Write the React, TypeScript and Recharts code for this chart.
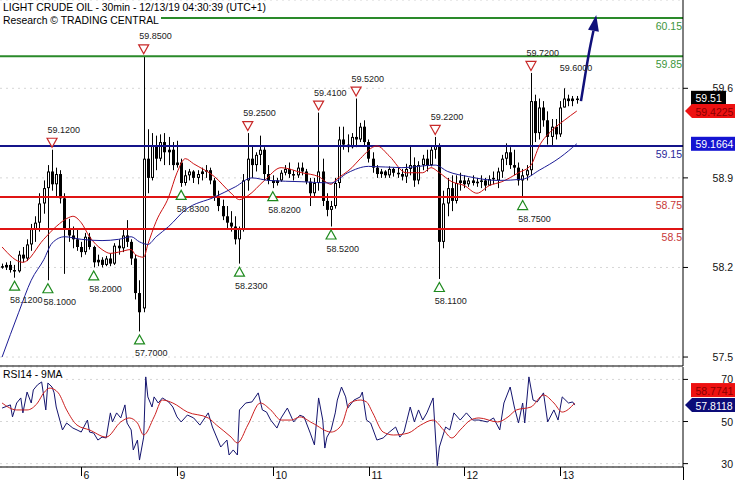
import React from 'react';
import {
  ComposedChart,
  LineChart,
  Line,
  Bar,
  XAxis,
  YAxis,
  CartesianGrid,
  ReferenceLine,
  ReferenceDot,
} from 'recharts';

type OHLC = [number, number, number, number];

// hourly bars [open, high, low, close]
const day5Bars: OHLC[] = [
  [58.21, 58.23, 58.19, 58.2], [58.2, 58.24, 58.18, 58.22], [58.22, 58.25, 58.16, 58.18],
  [58.18, 58.22, 58.12, 58.17], [58.17, 58.33, 58.16, 58.3], [58.3, 58.36, 58.24, 58.27],
  [58.27, 58.42, 58.25, 58.38], [58.38, 58.54, 58.33, 58.5], [58.5, 58.6, 58.4, 58.55],
  [58.55, 58.78, 58.48, 58.7], [58.7, 58.88, 58.62, 58.82], [58.82, 59.0, 58.1, 58.95],
  [58.95, 59.12, 58.8, 58.85], [58.85, 58.98, 58.75, 58.93], [58.93, 58.96, 58.7, 58.74],
  [58.74, 58.78, 58.15, 58.5], [58.5, 58.58, 58.4, 58.45], [58.45, 58.52, 58.35, 58.42],
  [58.42, 58.5, 58.33, 58.36],
];
const day6Bars: OHLC[] = [
  [58.36, 58.4, 58.28, 58.32], [58.32, 58.47, 58.3, 58.44], [58.44, 58.47, 58.34, 58.36],
  [58.36, 58.37, 58.2, 58.24], [58.24, 58.3, 58.21, 58.26], [58.26, 58.28, 58.2, 58.22],
  [58.22, 58.29, 58.21, 58.27], [58.27, 58.31, 58.21, 58.23], [58.23, 58.39, 58.22, 58.37],
  [58.37, 58.42, 58.3, 58.35], [58.35, 58.5, 58.32, 58.45], [58.45, 58.57, 58.36, 58.4],
  [58.4, 58.42, 58.22, 58.27], [58.27, 58.3, 57.95, 58.0], [58.0, 58.1, 57.7, 57.85],
  [57.88, 59.85, 57.85, 59.05], [59.05, 59.28, 58.78, 58.9], [58.9, 59.25, 58.88, 59.15],
  [59.15, 59.23, 58.96, 59.05], [59.05, 59.24, 59.03, 59.18], [59.18, 59.25, 59.0, 59.1],
  [59.1, 59.22, 59.0, 59.12], [59.12, 59.18, 58.96, 59.0],
];
const day9Bars: OHLC[] = [
  [59.0, 59.19, 58.98, 59.02], [59.02, 59.05, 58.83, 58.86], [58.86, 58.96, 58.84, 58.92],
  [58.92, 58.97, 58.88, 58.95], [58.95, 58.96, 58.86, 58.9], [58.9, 58.96, 58.85, 58.93],
  [58.93, 58.98, 58.88, 58.95], [58.95, 59.0, 58.9, 58.96], [58.96, 58.98, 58.85, 58.88],
  [58.88, 58.9, 58.72, 58.76], [58.76, 58.8, 58.64, 58.68], [58.68, 58.73, 58.57, 58.6],
  [58.6, 58.68, 58.5, 58.55], [58.55, 58.64, 58.48, 58.52], [58.52, 58.6, 58.38, 58.42],
  [58.42, 58.52, 58.23, 58.5], [58.5, 58.93, 58.48, 58.88], [58.88, 59.25, 58.8, 59.05],
  [59.05, 59.15, 58.9, 59.0], [59.0, 59.1, 58.95, 59.08], [59.08, 59.23, 59.0, 59.12],
  [59.12, 59.14, 58.88, 58.93], [58.93, 59.0, 58.85, 58.88],
];
const day10Bars: OHLC[] = [
  [58.88, 58.92, 58.82, 58.86], [58.86, 58.9, 58.84, 58.88], [58.88, 58.96, 58.87, 58.94],
  [58.94, 59.0, 58.92, 58.97], [58.97, 59.02, 58.9, 58.93], [58.93, 58.96, 58.88, 58.92],
  [58.92, 59.02, 58.9, 58.98], [58.98, 59.02, 58.92, 58.95], [58.95, 58.97, 58.85, 58.87],
  [58.87, 58.9, 58.68, 58.78], [58.78, 58.9, 58.75, 58.86], [58.86, 59.41, 58.8, 58.95],
  [58.95, 59.05, 58.68, 58.72], [58.72, 58.78, 58.6, 58.65], [58.65, 58.72, 58.52, 58.68],
  [58.68, 58.9, 58.66, 58.86], [58.86, 59.3, 58.82, 59.2], [59.2, 59.3, 59.12, 59.16],
  [59.16, 59.24, 59.1, 59.14], [59.14, 59.25, 59.13, 59.22], [59.22, 59.52, 59.14, 59.2],
  [59.2, 59.33, 59.18, 59.3], [59.3, 59.35, 59.15, 59.18],
];
const day11Bars: OHLC[] = [
  [59.18, 59.2, 59.02, 59.05], [59.05, 59.1, 58.94, 58.98], [58.98, 59.0, 58.9, 58.93],
  [58.93, 58.97, 58.9, 58.95], [58.95, 58.96, 58.9, 58.92], [58.92, 58.99, 58.9, 58.97],
  [58.97, 58.98, 58.91, 58.94], [58.94, 58.98, 58.9, 58.93], [58.93, 58.97, 58.88, 58.91],
  [58.91, 59.01, 58.86, 58.97], [58.97, 59.15, 58.92, 59.0], [59.0, 59.06, 58.83, 58.88],
  [58.88, 59.03, 58.85, 59.0], [59.0, 59.08, 58.96, 59.05], [59.05, 59.12, 58.95, 59.0],
  [59.0, 59.15, 58.99, 59.12], [59.12, 59.22, 59.05, 59.15], [59.15, 59.17, 58.11, 58.4],
  [58.4, 58.8, 58.35, 58.7], [58.7, 58.9, 58.6, 58.82], [58.82, 58.92, 58.64, 58.72],
  [58.72, 58.92, 58.7, 58.86], [58.86, 58.94, 58.8, 58.88],
];
const day12Bars: OHLC[] = [
  [58.88, 58.92, 58.82, 58.85], [58.85, 58.9, 58.83, 58.88], [58.88, 58.92, 58.84, 58.86],
  [58.86, 58.9, 58.83, 58.87], [58.87, 58.92, 58.82, 58.88], [58.88, 58.9, 58.8, 58.84],
  [58.84, 58.92, 58.84, 58.89], [58.89, 58.95, 58.85, 58.9], [58.88, 58.98, 58.82, 58.95],
  [58.95, 59.08, 58.9, 59.05], [59.05, 59.17, 59.0, 59.1], [59.1, 59.14, 58.97, 59.0],
  [59.0, 59.12, 58.92, 58.98], [58.98, 59.02, 58.84, 58.88], [58.88, 58.97, 58.75, 58.92],
  [58.92, 59.0, 58.88, 58.96], [58.96, 59.72, 58.92, 59.5], [59.5, 59.55, 59.18, 59.25],
  [59.25, 59.52, 59.2, 59.45], [59.45, 59.5, 59.3, 59.35], [59.35, 59.42, 59.16, 59.22],
  [59.22, 59.36, 59.15, 59.3], [59.3, 59.36, 59.2, 59.24],
];
const day13Bars: OHLC[] = [
  [59.24, 59.5, 59.22, 59.45], [59.45, 59.6, 59.45, 59.52], [59.52, 59.55, 59.46, 59.5],
  [59.5, 59.54, 59.46, 59.52], [59.52, 59.54, 59.48, 59.51],
];

// moving averages on the price chart [bar index, value]
const redMA: [number, number][] = [
  [0, 58.36], [5, 58.24], [10, 58.42], [13, 58.52], [16, 58.59], [17, 58.6], [19, 58.55],
  [21, 58.44], [24, 58.34], [26, 58.31], [28, 58.32], [31, 58.34], [32, 58.3], [34, 58.28],
  [35, 58.38], [37, 58.56], [40, 58.75], [42, 58.94], [44, 59.05], [46, 59.01], [51, 58.91],
  [55, 58.78], [57, 58.73], [59, 58.76], [63, 58.88], [67, 58.98], [72, 58.94], [76, 58.91],
  [79, 58.85], [80, 58.88], [84, 58.98], [86, 59.05], [90, 59.15], [93, 59.07], [97, 58.94],
  [101, 58.94], [103, 58.98], [105, 58.94], [108, 58.87], [111, 58.84], [114, 58.78],
  [117, 58.84], [120, 58.87], [124, 58.94], [127, 59.0], [129, 59.15], [132, 59.27],
  [135, 59.35], [138, 59.4225],
];
const blueMA: [number, number][] = [
  [0, 57.5], [4, 57.85], [7, 58.1], [10, 58.26], [12, 58.39], [15, 58.44], [19, 58.42],
  [24, 58.41], [28, 58.42], [31, 58.44], [33, 58.4], [35, 58.38], [37, 58.44], [40, 58.52],
  [44, 58.65], [51, 58.75], [56, 58.83], [60, 58.9], [64, 58.88], [72, 58.87], [79, 58.86],
  [83, 58.94], [88, 58.99], [96, 58.98], [104, 59.0], [107, 58.95], [112, 58.91], [119, 58.88],
  [125, 58.89], [129, 58.96], [134, 59.06], [138, 59.1664],
];
const arrowPath: [number, number][] = [[139, 59.5], [140, 59.7], [141, 59.89], [142, 60.05]];

const peaks = [
  { bar: 12, price: 59.12, tri: true }, { bar: 34, price: 59.85, tri: true },
  { bar: 59, price: 59.25, tri: true }, { bar: 76, price: 59.41, tri: true },
  { bar: 85, price: 59.52, tri: true }, { bar: 104, price: 59.22, tri: true },
  { bar: 127, price: 59.72, tri: true }, { bar: 135, price: 59.6, tri: false },
];
const troughs = [
  { bar: 3, price: 58.12 }, { bar: 11, price: 58.1 }, { bar: 22, price: 58.2 },
  { bar: 33, price: 57.7 }, { bar: 43, price: 58.83 }, { bar: 57, price: 58.23 },
  { bar: 65, price: 58.82 }, { bar: 79, price: 58.52 }, { bar: 105, price: 58.11 },
  { bar: 125, price: 58.75 },
];

const levels = [
  { price: 60.15, text: '60.15', line: '#2a8a2a', color: '#3c963c' },
  { price: 59.85, text: '59.85', line: '#2a8a2a', color: '#3c963c' },
  { price: 59.15, text: '59.15', line: '#14148a', color: '#28289a' },
  { price: 58.75, text: '58.75', line: '#e01414', color: '#c83838' },
  { price: 58.5, text: '58.5', line: '#e01414', color: '#c83838' },
];

// RSI panel [bar index, value]
const rsiLine: [number, number][] = [
  [0, 56.4], [2, 57.9], [2.5, 52.2], [3.5, 58.8], [4.5, 61.2], [5, 54.1], [6, 64.0], [7, 58.8],
  [7.5, 65.0], [8.5, 67.4], [9.5, 68.8], [10.5, 55.5], [11, 68.3], [12, 66.4], [12.5, 63.6],
  [13, 56.9], [14.5, 46.0], [15.5, 49.3], [17, 46.9], [18, 46.0], [19, 45.0], [20.5, 50.7],
  [21, 45.0], [22, 44.5], [23, 41.2], [24, 42.6], [25, 42.2], [26, 54.1], [26.5, 49.8],
  [27.5, 54.1], [28.5, 51.7], [29.5, 57.9], [30, 49.3], [31, 46.0], [31.5, 36.5], [32.5, 41.2],
  [33, 31.7], [34, 42.6], [34.5, 71.2], [35, 61.7], [36, 56.9], [36.5, 61.7], [37.5, 58.8],
  [38.5, 61.2], [40, 59.3], [41, 56.9], [42, 52.2], [43, 49.8], [44.5, 53.1], [46, 51.7],
  [47.5, 48.3], [49.5, 54.1], [50.5, 47.4], [52.5, 37.9], [54, 41.2], [54.5, 34.1], [55.5, 36.5],
  [56.5, 34.1], [57, 55.5], [58.5, 58.8], [60, 59.3], [61.5, 63.6], [62.5, 55.5], [63.5, 54.5],
  [64.5, 50.7], [66, 46.9], [67, 51.7], [68.5, 56.4], [70, 49.8], [71.5, 53.0], [72.5, 52.2],
  [74, 44.5], [75, 38.9], [76, 61.2], [77, 50.7], [77.5, 37.4], [78, 42.6], [79, 46.0],
  [80, 54.1], [80.5, 60.2], [81.5, 66.4], [82.5, 61.7], [83, 56.4], [84.5, 60.2], [86, 61.7],
  [86.5, 64.0], [87.5, 50.7], [88.5, 49.3], [90, 41.2], [91.5, 42.2], [93, 45.0], [94.5, 47.4],
  [95.5, 42.6], [96.5, 45.0], [98, 56.9], [99, 49.8], [100, 55.5], [101, 50.7], [102, 54.1],
  [103.5, 61.2], [104.5, 29.0], [105, 37.9], [106.5, 47.4], [107.5, 46.0], [108.5, 54.1],
  [110, 50.7], [111.5, 54.1], [113, 50.7], [114.5, 50.7], [116.5, 49.8], [118, 51.7],
  [119.5, 46.0], [120.5, 58.8], [122, 66.4], [123, 56.9], [124, 49.3], [125, 58.8], [125.5, 49.3],
  [126.5, 71.2], [127.5, 60.2], [128.5, 59.3], [130, 63.6], [131, 49.8], [132.5, 55.5],
  [133.5, 50.7], [134.5, 61.7], [136, 58.8], [137, 59.3], [137.5, 57.81],
];
const rsiMA: [number, number][] = [
  [0, 58.8], [3.5, 55.5], [6, 55.5], [8.5, 58.8], [10, 63.6], [11.5, 65.9], [13.5, 63.6],
  [15.5, 55.5], [18, 48.3], [21, 46.0], [25, 42.6], [28.5, 49.8], [30.5, 51.7], [32.5, 49.3],
  [34, 43.6], [36.5, 52.2], [38.5, 60.2], [41, 58.8], [44.5, 54.5], [49.5, 51.7], [51.5, 48.3],
  [55, 42.6], [56.5, 39.8], [59, 48.3], [62, 58.8], [64.5, 55.5], [67, 50.7], [69.5, 50.7],
  [71.5, 52.2], [74.5, 49.3], [79, 45.0], [81.5, 48.3], [83.5, 58.8], [86, 60.2], [87.5, 59.3],
  [89, 54.1], [91.5, 45.0], [94, 43.6], [97.5, 44.5], [100.5, 48.3], [103.5, 50.7], [106, 46.0],
  [108, 42.2], [110, 46.0], [112.5, 50.7], [114.5, 51.7], [119, 49.8], [121.5, 52.2],
  [123.5, 55.5], [127, 56.9], [130, 62.6], [132.5, 58.8], [134.5, 54.5], [137.5, 58.77],
];

const priceTicks = [57.5, 58.2, 58.9, 59.6];
const rsiTicks = [30, 50, 70];
const dayTickBars = [19, 42, 65, 88, 111, 134];
const dayLabels = ['6', '9', '10', '11', '12', '13'];

const lastPrice = { value: 59.51, text: '59.51' };
const redMALast = { value: 59.4225, text: '59.4225' };
const blueMALast = { value: 59.1664, text: '59.1664' };
const rsiLast = { value: 57.8118, text: '57.8118' };
const rsiMALast = { value: 58.7741, text: '58.7741' };

const TOTAL_SLOTS = 164;
const FONT = '"Liberation Sans", Arial, sans-serif';

const allBars: OHLC[] = [
  ...day5Bars, ...day6Bars, ...day9Bars, ...day10Bars, ...day11Bars, ...day12Bars, ...day13Bars,
];

const mainData: any[] = Array.from({ length: TOTAL_SLOTS }, (_, i) => {
  const b = allBars[i];
  return b
    ? { i, o: b[0], h: b[1], l: b[2], c: b[3], range: [b[2], b[1]] }
    : { i };
});
redMA.forEach(([i, v]) => (mainData[i].red = v));
blueMA.forEach(([i, v]) => (mainData[i].blue = v));
arrowPath.forEach(([i, v]) => (mainData[i].arrow = v));

const rsiLineData = rsiLine.map(([t, v]) => ({ t, v }));
const rsiMAData = rsiMA.map(([t, v]) => ({ t, v }));

const Candle = (props: any) => {
  const { x, y, width, height, payload } = props;
  if (!payload || payload.o == null || !isFinite(y) || !isFinite(height)) return <g />;
  const { o, h, l, c } = payload;
  const top = Math.min(y, y + height);
  const span = Math.abs(height);
  const k = h - l > 0 ? span / (h - l) : 0;
  const py = (v: number) => top + (h - v) * k;
  const n = Math.round(x + width / 2);
  const bTop = py(Math.max(o, c));
  const bBot = py(Math.min(o, c));
  const bh = Math.max(1.5, bBot - bTop);
  const up = c >= o;
  return (
    <g>
      <line x1={n + 0.5} x2={n + 0.5} y1={top} y2={top + span} stroke="#000" strokeWidth={1} />
      <rect x={n - 1} y={bTop} width={3} height={bh} fill="#000" />
      {up && bh > 3 && <rect x={n} y={bTop + 1} width={1} height={bh - 2} fill="#fff" />}
    </g>
  );
};

const PeakMark = ({ cx, cy, text, tri }: any) => (
  <g>
    {tri && (
      <polygon
        points={`${cx - 5},${cy - 11.5} ${cx + 5},${cy - 11.5} ${cx},${cy - 2.5}`}
        fill="#fff"
        stroke="#c82828"
        strokeWidth={1.2}
      />
    )}
    <text x={cx - 4.5} y={cy - 20} dominantBaseline="central" fontSize={9} fill="#222">{text}</text>
  </g>
);

const TroughMark = ({ cx, cy, text }: any) => (
  <g>
    <polygon
      points={`${cx - 5},${cy + 12.5} ${cx + 5},${cy + 12.5} ${cx},${cy + 3.5}`}
      fill="#fff"
      stroke="#1e8a1e"
      strokeWidth={1.2}
    />
    <text x={cx - 4.5} y={cy + 22} dominantBaseline="central" fontSize={9} fill="#222">{text}</text>
  </g>
);

const ArrowHead = ({ cx, cy }: any) => {
  const th = (10 * Math.PI) / 180;
  const dx = Math.sin(th), dy = -Math.cos(th);
  const nx = Math.cos(th), ny = Math.sin(th);
  const tip = [cx + 16 * dx, cy + 16 * dy];
  const a = [cx + 5.5 * nx, cy + 5.5 * ny];
  const b = [cx - 5.5 * nx, cy - 5.5 * ny];
  return <polygon points={`${tip[0]},${tip[1]} ${a[0]},${a[1]} ${b[0]},${b[1]}`} fill="#10107a" />;
};

const LevelLabel = (props: any) => {
  const vb = props.viewBox || {};
  const x = (vb.x ?? 0) + (vb.width ?? 0) - 1;
  const y = (vb.y ?? 0) + 8;
  return (
    <text x={x} y={y} textAnchor="end" dominantBaseline="central" fontSize={10.5} fill={props.clr}>
      {props.lbl}
    </text>
  );
};

const PriceBox = (props: any) => {
  const vb = props.viewBox || {};
  const x0 = (vb.x ?? 0) + (vb.width ?? 0);
  const cy = (vb.y ?? 0) + (props.dy || 0);
  const w = props.w || 44;
  const shape = props.arrow ? (
    <polygon
      points={`${x0 + 2},${cy} ${x0 + 9},${cy - 7} ${x0 + 60},${cy - 7} ${x0 + 60},${cy + 7} ${x0 + 9},${cy + 7}`}
      fill={props.fill}
    />
  ) : (
    <rect x={x0 + 8} y={cy - 7} width={w} height={14} fill={props.fill} />
  );
  return (
    <g>
      {shape}
      <text x={x0 + 12.5} y={cy + 0.5} dominantBaseline="central" fontSize={10.5} fill={props.clr}>
        {props.lbl}
      </text>
    </g>
  );
};

const AxisTick = (props: any) => {
  const { x, y, payload } = props;
  return (
    <text x={x + 43} y={y} textAnchor="end" dominantBaseline="central" fontSize={10.5} fill="#111">
      {payload.value}
    </text>
  );
};

const DayTick = (props: any) => {
  const { x, y, payload } = props;
  const idx = dayTickBars.indexOf(payload.value);
  const px = Math.round(x) + 0.5;
  return (
    <g>
      <line x1={px} x2={px} y1={y} y2={y + 9} stroke="#000" />
      <text x={px + 2} y={y + 7.5} dominantBaseline="central" fontSize={10.5} fill="#111">
        {dayLabels[idx]}
      </text>
    </g>
  );
};

export default function App() {
  return (
    <div
      style={{
        position: 'absolute',
        left: 0,
        top: 0,
        width: 735,
        height: 480,
        background: '#fff',
        fontFamily: FONT,
        overflow: 'hidden',
      }}
    >
      <div style={{ position: 'absolute', left: 0, top: 0 }}>
        <ComposedChart width={735} height={367} data={mainData} margin={{ top: 0, right: 0, bottom: 0, left: 0 }}>
          <CartesianGrid horizontal vertical={false} strokeDasharray="2 4" stroke="#d6d6d6" />
          <XAxis dataKey="i" type="category" tick={false} tickLine={false} axisLine={{ stroke: '#000' }} height={1} />
          <YAxis
            orientation="right"
            width={52}
            domain={[57.43, 60.29]}
            allowDataOverflow
            ticks={priceTicks}
            interval={0}
            tickSize={5}
            tickMargin={2}
            tickLine={{ stroke: '#000' }}
            axisLine={{ stroke: '#000' }}
            tick={<AxisTick />}
          />
          <Bar dataKey="range" shape={(p: any) => <Candle {...p} />} isAnimationActive={false} />
          {levels.map((l) => (
            <ReferenceLine
              key={l.text}
              y={l.price}
              stroke={l.line}
              strokeWidth={2}
              label={<LevelLabel lbl={l.text} clr={l.color} />}
            />
          ))}
          <Line dataKey="red" type="monotone" stroke="#cc1111" strokeWidth={1} dot={false} activeDot={false} connectNulls isAnimationActive={false} />
          <Line dataKey="blue" type="monotone" stroke="#1c1c96" strokeWidth={1} dot={false} activeDot={false} connectNulls isAnimationActive={false} />
          <Line dataKey="arrow" type="monotone" stroke="#10107a" strokeWidth={2.5} dot={false} activeDot={false} connectNulls isAnimationActive={false} />
          <ReferenceDot
            x={arrowPath[arrowPath.length - 1][0]}
            y={arrowPath[arrowPath.length - 1][1]}
            r={0}
            shape={(p: any) => <ArrowHead cx={p.cx} cy={p.cy} />}
          />
          {peaks.map((p) => (
            <ReferenceDot
              key={'p' + p.bar}
              x={p.bar}
              y={p.price}
              r={0}
              shape={(sp: any) => <PeakMark cx={sp.cx} cy={sp.cy} text={p.price.toFixed(4)} tri={p.tri} />}
            />
          ))}
          {troughs.map((p) => (
            <ReferenceDot
              key={'t' + p.bar}
              x={p.bar}
              y={p.price}
              r={0}
              shape={(sp: any) => <TroughMark cx={sp.cx} cy={sp.cy} text={p.price.toFixed(4)} />}
            />
          ))}
          <ReferenceLine y={lastPrice.value} stroke="none" label={<PriceBox lbl={lastPrice.text} fill="#000" clr="#fff" w={35} dy={-2} />} />
          <ReferenceLine y={redMALast.value} stroke="none" label={<PriceBox lbl={redMALast.text} fill="#ee1111" clr="#8a0000" arrow />} />
          <ReferenceLine y={blueMALast.value} stroke="none" label={<PriceBox lbl={blueMALast.text} fill="#1414d2" clr="#fff" w={44} />} />
        </ComposedChart>
      </div>

      <div style={{ position: 'absolute', left: 0, top: 367 }}>
        <LineChart width={735} height={113} margin={{ top: 0, right: 0, bottom: 0, left: 0 }}>
          <CartesianGrid horizontal vertical={false} strokeDasharray="2 4" stroke="#d6d6d6" />
          <XAxis
            dataKey="t"
            type="number"
            domain={[-0.5, 163.5]}
            allowDataOverflow
            ticks={dayTickBars}
            interval={0}
            height={13}
            tickSize={0}
            tickMargin={0}
            tickLine={false}
            axisLine={{ stroke: '#000' }}
            tick={<DayTick />}
          />
          <YAxis
            orientation="right"
            width={52}
            domain={[28.4, 75.9]}
            allowDataOverflow
            ticks={rsiTicks}
            interval={0}
            tickSize={5}
            tickMargin={2}
            tickLine={{ stroke: '#000' }}
            axisLine={{ stroke: '#000' }}
            tick={<AxisTick />}
          />
          <Line data={rsiLineData} dataKey="v" type="linear" stroke="#14146e" strokeWidth={1} dot={false} activeDot={false} isAnimationActive={false} />
          <Line data={rsiMAData} dataKey="v" type="monotone" stroke="#cc2020" strokeWidth={1} dot={false} activeDot={false} isAnimationActive={false} />
          <ReferenceLine y={rsiMALast.value} stroke="none" label={<PriceBox lbl={rsiMALast.text} fill="#ee1111" clr="#8a0000" w={44} dy={-13} />} />
          <ReferenceLine y={rsiLast.value} stroke="none" label={<PriceBox lbl={rsiLast.text} fill="#0c0c78" clr="#fff" arrow />} />
        </LineChart>
      </div>

      <div style={{ position: 'absolute', left: 683, top: 467, width: 1, height: 13, background: '#000' }} />

      <div style={{ position: 'absolute', left: 0, top: 1, fontSize: 10.4, lineHeight: '13px', color: '#000' }}>
        <div style={{ background: '#fff', width: 'fit-content', padding: '0 2px 0 3px' }}>
          LIGHT CRUDE OIL - 30min - 12/13/19 04:30:39 (UTC+1)
        </div>
        <div style={{ background: '#fff', width: 'fit-content', padding: '0 2px 0 3px' }}>
          Research © TRADING CENTRAL
        </div>
      </div>
      <div style={{ position: 'absolute', left: 0, top: 368, fontSize: 10.4, lineHeight: '13px', color: '#000', padding: '0 2px 0 3px', background: '#fff' }}>
        RSI14 - 9MA
      </div>
    </div>
  );
}
